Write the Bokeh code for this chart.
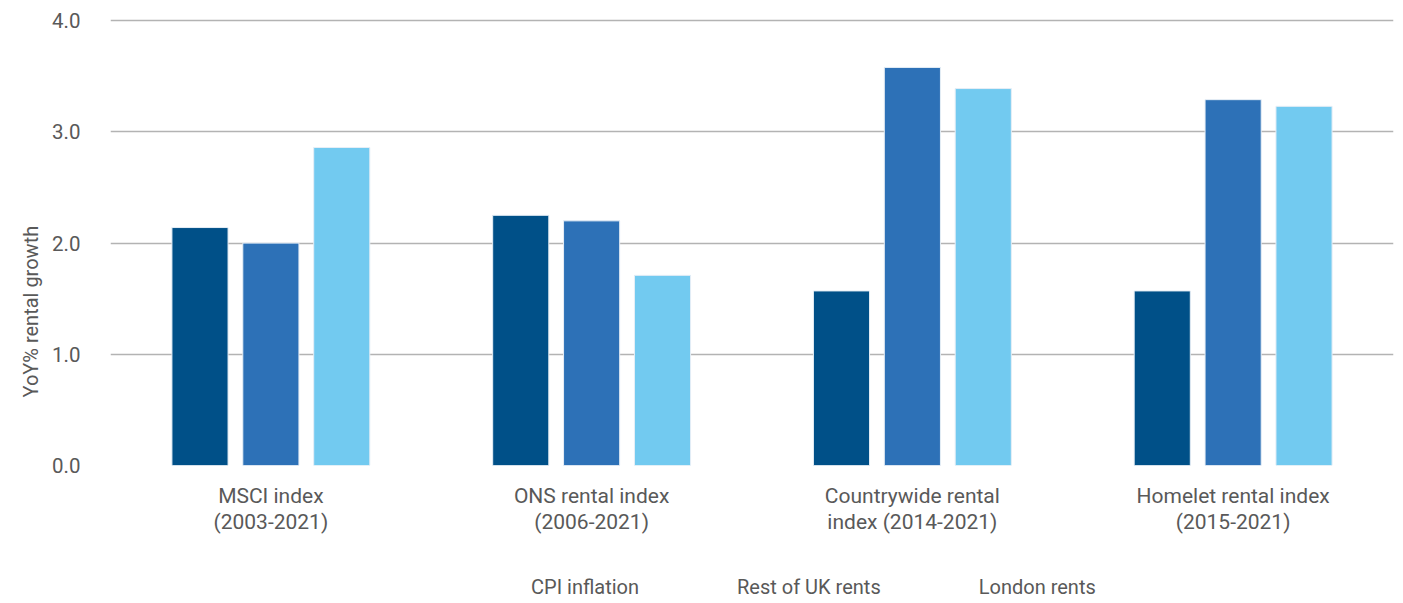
from bokeh.plotting import figure
from bokeh.layouts import column
from bokeh.models import FactorRange, Legend, LegendItem, Title, NumeralTickFormatter, FixedTicker
from bokeh.transform import dodge
from bokeh.models import ColumnDataSource
from bokeh.embed import file_html
from bokeh.resources import INLINE

categories = ["MSCI index\n(2003-2021)", "ONS rental index\n(2006-2021)",
              "Countrywide rental\nindex (2014-2021)", "Homelet rental index\n(2015-2021)"]
cpi_inflation = [2.14, 2.25, 1.57, 1.57]
rest_of_uk = [2.00, 2.20, 3.58, 3.29]
london = [2.86, 1.71, 3.39, 3.23]
series_names = ["CPI inflation", "Rest of UK rents", "London rents"]
colors = ["#005088", "#2d71b7", "#72caf0"]
y_ticks = [0, 1, 2, 3, 4]

FONT = "Roboto"
TXT = "#595959"

src = ColumnDataSource(dict(cat=categories, cpi=cpi_inflation, rest=rest_of_uk, lon=london))

p = figure(x_range=FactorRange(*categories), y_range=(0, 4.02),
           width=1403, height=563, output_backend="svg", toolbar_location=None,
           min_border_left=110, min_border_right=10, min_border_top=18, min_border_bottom=98)
p.outline_line_color = None

for col, off, c in zip(["cpi", "rest", "lon"], [-0.221, 0.0, 0.221], colors):
    p.vbar(x=dodge("cat", off, range=p.x_range), top=col, width=0.175, source=src,
           fill_color=c, line_color="#e6eef6", line_width=1)

p.xgrid.grid_line_color = None
p.ygrid.grid_line_color = "#b3b3b3"
p.ygrid.grid_line_width = 1.5
p.ygrid.ticker = FixedTicker(ticks=y_ticks)

p.yaxis.ticker = FixedTicker(ticks=y_ticks)
p.yaxis.formatter = NumeralTickFormatter(format="0.0")
p.yaxis.axis_line_color = None
p.yaxis.major_tick_line_color = None
p.yaxis.minor_tick_line_color = None
p.yaxis.major_tick_out = 0
p.yaxis.major_tick_in = 0
p.yaxis.minor_tick_out = 0
p.yaxis.major_label_standoff = 30
p.yaxis.major_label_text_font = FONT
p.yaxis.major_label_text_font_size = "20.5px"
p.yaxis.major_label_text_color = TXT

p.xaxis.axis_line_color = None
p.xaxis.major_tick_line_color = None
p.xaxis.minor_tick_line_color = None
p.xaxis.major_tick_out = 0
p.xaxis.major_tick_in = 0
p.xaxis.major_label_standoff = 18
p.xaxis.major_label_text_font = FONT
p.xaxis.major_label_text_font_size = "21px"
p.xaxis.major_label_text_color = TXT
p.xaxis.major_label_text_line_height = 1.1

p.add_layout(Title(text="YoY% rental growth", align="left", offset=68, standoff=10,
                   vertical_align="top",
                   text_font=FONT, text_font_size="20px", text_font_style="normal",
                   text_color=TXT), "left")

# legend strip below the chart
p2 = figure(width=1403, height=40, x_range=(0, 1), y_range=(0, 1),
            x_axis_type=None, y_axis_type=None, output_backend="svg", toolbar_location=None,
            min_border_left=0, min_border_right=0, min_border_top=0, min_border_bottom=0)
p2.outline_line_color = None
p2.xgrid.visible = False
p2.ygrid.visible = False

legend_renderers = []
for c in colors:
    legend_renderers.append(p2.vbar(x=[], top=[], width=0.1, fill_color=c, line_color=c))

legend = Legend(items=[LegendItem(label=n, renderers=[r]) for n, r in zip(series_names, legend_renderers)],
                orientation="horizontal", location=(393, 4), margin=0, padding=0,
                spacing=70, glyph_width=17, glyph_height=17, label_standoff=11,
                label_text_font=FONT, label_text_font_size="20px", label_text_color=TXT,
                border_line_color=None, background_fill_alpha=0)
p2.add_layout(legend)

layout = column(p, p2, spacing=0)
open("out.html", "w").write(file_html(layout, INLINE))
